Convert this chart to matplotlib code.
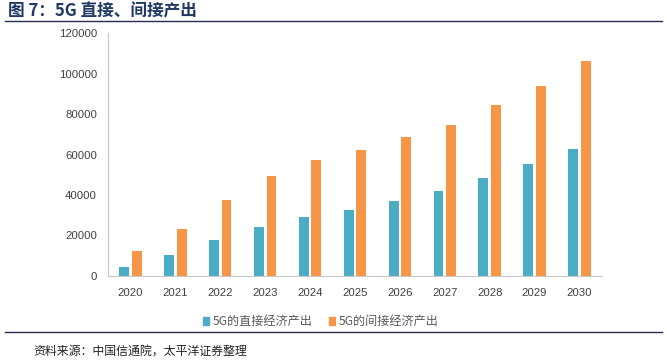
import matplotlib
matplotlib.use("Agg")
import matplotlib.pyplot as plt
import numpy as np
from matplotlib.lines import Line2D
from matplotlib.patches import Patch

plt.rcParams['font.family'] = ['Noto Sans CJK SC', 'DejaVu Sans']

years = ['2020', '2021', '2022', '2023', '2024', '2025', '2026', '2027', '2028', '2029', '2030']
direct = [4500, 10200, 17800, 24200, 29000, 32600, 37200, 42100, 48500, 55200, 62900]
indirect = [12100, 23400, 37300, 49600, 57300, 62400, 68600, 74800, 84400, 94000, 106000]
yticks = [0, 20000, 40000, 60000, 80000, 100000, 120000]
series_names = ['5G的直接经济产出', '5G的间接经济产出']
title = '图 7：5G 直接、间接产出'
source = '资料来源：中国信通院，太平洋证券整理'

c_blue = '#4BACC6'
c_orange = '#F79646'

fig = plt.figure(figsize=(6.67, 3.62), dpi=100)
ax = fig.add_axes([0.1619, 0.2376, 0.7406, 0.6712])

x = np.arange(len(years))
w = 0.22
ax.bar(x - 0.14, direct, width=w, color=c_blue)
ax.bar(x + 0.14, indirect, width=w, color=c_orange)

ax.set_xlim(-0.5, len(years) - 0.5)
ax.set_ylim(0, 120000)
ax.set_yticks(yticks)
ax.set_yticklabels([str(v) for v in yticks])
ax.set_xticks(x)
ax.set_xticklabels(years)
for lab in ax.get_xticklabels() + ax.get_yticklabels():
    lab.set_family(['Liberation Sans', 'DejaVu Sans'])
    lab.set_fontsize(8.2)
    lab.set_color('#404040')
ax.tick_params(axis='both', length=0)
ax.tick_params(axis='y', pad=8)
ax.tick_params(axis='x', pad=9)
for s in ['top', 'right']:
    ax.spines[s].set_visible(False)
ax.spines['left'].set_color('#C8C8C8')
ax.spines['bottom'].set_color('#C8C8C8')

handles = [Patch(color=c_blue), Patch(color=c_orange)]
fig.legend(handles, series_names, loc='center', bbox_to_anchor=(0.481, 0.111),
           ncol=2, frameon=False, fontsize=8.7, handlelength=0.55, handleheight=0.55,
           handletextpad=0.3, columnspacing=1.3, labelcolor='#595959')

fig.text(0.012, 0.968, title, fontsize=12, fontweight='bold', color='#1F3864',
         va='center', ha='left')
fig.add_artist(Line2D([0.008, 0.993], [0.941, 0.941], color='#2B2B4F', lw=1.0,
                      transform=fig.transFigure))
fig.add_artist(Line2D([0.008, 0.993], [0.083, 0.083], color='#2B2B4F', lw=1.0,
                      transform=fig.transFigure))
fig.text(0.05, 0.031, source, fontsize=8.6, color='#222222', va='center', ha='left')

fig.savefig('out.png', dpi=100)
